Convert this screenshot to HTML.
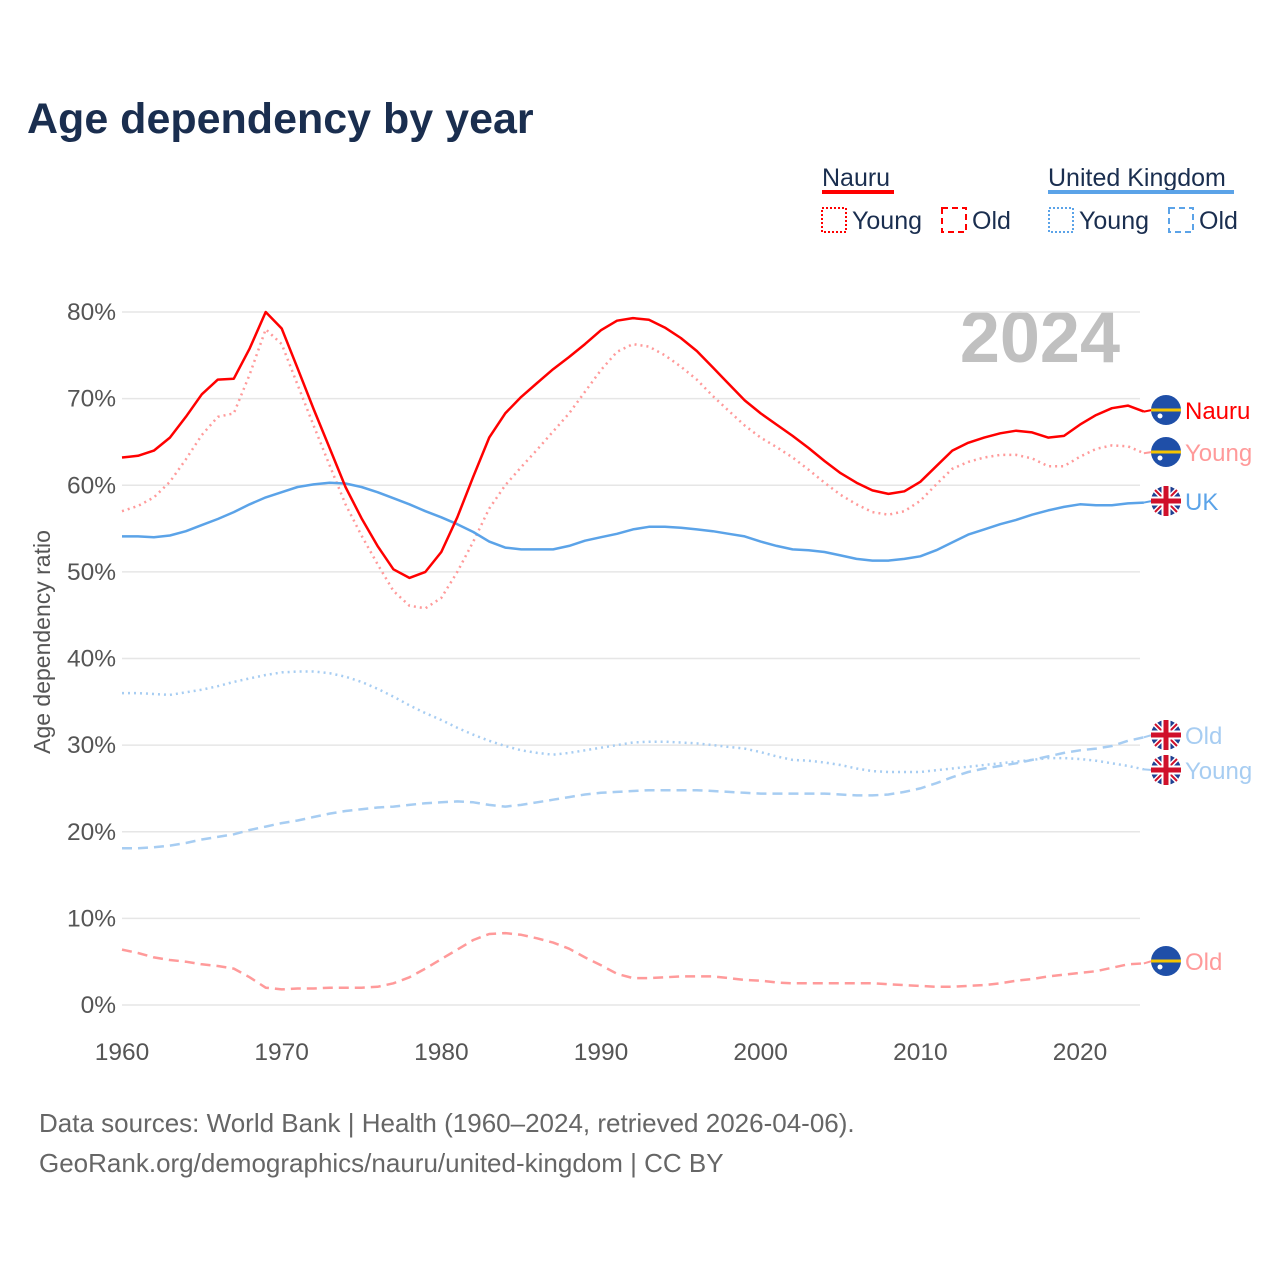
<!DOCTYPE html>
<html><head><meta charset="utf-8"><style>
body{margin:0;background:#fff;}
svg{display:block;font-family:"Liberation Sans",sans-serif;}
</style></head><body>
<svg id="chart" width="1280" height="1280" viewBox="0 0 1280 1280">
<rect width="1280" height="1280" fill="#fff"/>
<text x="27" y="133" font-size="43" font-weight="bold" fill="#1a2e4f">Age dependency by year</text>
<g font-size="25" fill="#1a2e4f">
<text x="822" y="186">Nauru</text>
<rect x="822" y="190" width="72" height="4" fill="#ff0000"/>
<rect x="822" y="208" width="24" height="24" fill="none" stroke="#ff0000" stroke-width="2" stroke-dasharray="2 2"/>
<text x="852" y="229">Young</text>
<rect x="942" y="208" width="24" height="24" fill="none" stroke="#ff0000" stroke-width="2" stroke-dasharray="6 4"/>
<text x="972" y="229">Old</text>
<text x="1048" y="186">United Kingdom</text>
<rect x="1048" y="190" width="186" height="4" fill="#5ba3e8"/>
<rect x="1049" y="208" width="24" height="24" fill="none" stroke="#5ba3e8" stroke-width="2" stroke-dasharray="2 2"/>
<text x="1079" y="229">Young</text>
<rect x="1169" y="208" width="24" height="24" fill="none" stroke="#5ba3e8" stroke-width="2" stroke-dasharray="6 4"/>
<text x="1199" y="229">Old</text>
</g>
<text x="1120" y="362" font-size="72" font-weight="bold" fill="#c0c0c0" text-anchor="end">2024</text>
<text transform="translate(50,642) rotate(-90)" font-size="23" fill="#555" text-anchor="middle">Age dependency ratio</text>
<g id="grid"></g><g id="series"></g><g id="labels"></g>
<text x="39" y="1132" font-size="26" fill="#666">Data sources: World Bank | Health (1960–2024, retrieved 2026-04-06).</text>
<text x="39" y="1172" font-size="26" fill="#666">GeoRank.org/demographics/nauru/united-kingdom | CC BY</text>
</svg>
<script>
const years=[];for(let y=1960;y<=2024;y++)years.push(y);
const yTicks=[0,10,20,30,40,50,60,70,80];
const xTicks=[1960,1970,1980,1990,2000,2010,2020];
const nauruTotal=[63.2,63.4,64.0,65.5,67.9,70.5,72.2,72.3,75.8,80.0,78.1,73.5,68.8,64.3,59.8,56.2,53.0,50.3,49.3,50.0,52.3,56.3,61.0,65.5,68.3,70.2,71.8,73.4,74.8,76.3,77.9,79.0,79.3,79.1,78.2,77.0,75.5,73.6,71.7,69.8,68.3,67.0,65.7,64.3,62.8,61.4,60.3,59.4,59.0,59.3,60.4,62.2,64.0,64.9,65.5,66.0,66.3,66.1,65.5,65.7,67.0,68.1,68.9,69.2,68.5];
const nauruYoung=[57.0,57.6,58.6,60.4,63.0,65.8,67.9,68.3,72.8,78.0,76.3,71.6,66.9,62.3,57.8,54.2,50.9,47.8,46.1,45.8,47.0,50.0,53.5,57.3,60.0,62.1,64.1,66.2,68.3,70.8,73.3,75.4,76.3,76.0,75.0,73.7,72.2,70.3,68.6,66.9,65.5,64.4,63.2,61.8,60.3,58.9,57.8,56.9,56.6,57.0,58.2,60.1,61.9,62.7,63.2,63.5,63.5,63.1,62.2,62.2,63.3,64.2,64.6,64.5,63.7];
const nauruOld=[6.4,6.0,5.5,5.2,5.0,4.7,4.5,4.2,3.2,2.0,1.8,1.9,1.9,2.0,2.0,2.0,2.1,2.5,3.2,4.2,5.3,6.4,7.5,8.2,8.3,8.1,7.7,7.2,6.5,5.5,4.6,3.6,3.1,3.1,3.2,3.3,3.3,3.3,3.1,2.9,2.8,2.6,2.5,2.5,2.5,2.5,2.5,2.5,2.4,2.3,2.2,2.1,2.1,2.2,2.3,2.5,2.8,3.0,3.3,3.5,3.7,3.9,4.3,4.7,4.8];
const ukTotal=[54.1,54.1,54.0,54.2,54.7,55.4,56.1,56.9,57.8,58.6,59.2,59.8,60.1,60.3,60.2,59.8,59.2,58.5,57.8,57.0,56.3,55.5,54.6,53.5,52.8,52.6,52.6,52.6,53.0,53.6,54.0,54.4,54.9,55.2,55.2,55.1,54.9,54.7,54.4,54.1,53.5,53.0,52.6,52.5,52.3,51.9,51.5,51.3,51.3,51.5,51.8,52.5,53.4,54.3,54.9,55.5,56.0,56.6,57.1,57.5,57.8,57.7,57.7,57.9,58.0];
const ukYoung=[36.0,36.0,35.9,35.8,36.1,36.4,36.8,37.3,37.7,38.1,38.4,38.5,38.5,38.3,37.9,37.3,36.5,35.6,34.6,33.7,32.9,32.0,31.2,30.5,29.9,29.4,29.1,28.9,29.1,29.4,29.7,30.0,30.3,30.4,30.4,30.3,30.2,30.0,29.8,29.6,29.2,28.7,28.3,28.2,28.0,27.7,27.3,27.0,26.9,26.9,26.9,27.1,27.3,27.5,27.7,27.9,28.1,28.3,28.5,28.5,28.4,28.2,27.9,27.6,27.2];
const ukOld=[18.1,18.1,18.2,18.4,18.7,19.1,19.4,19.7,20.2,20.6,21.0,21.3,21.7,22.1,22.4,22.6,22.8,22.9,23.1,23.3,23.4,23.5,23.4,23.1,22.9,23.1,23.4,23.7,24.0,24.3,24.5,24.6,24.7,24.8,24.8,24.8,24.8,24.7,24.6,24.5,24.4,24.4,24.4,24.4,24.4,24.3,24.2,24.2,24.3,24.6,25.0,25.6,26.3,26.9,27.3,27.6,27.9,28.3,28.7,29.1,29.4,29.6,29.9,30.5,30.9];

const NS='http://www.w3.org/2000/svg';
const xS=y=>122+(y-1960)*(1080-122)/60;
const yS=v=>1005-v*(1005-312)/80;
function mk(tag,attrs,parent){const e=document.createElementNS(NS,tag);for(const k in attrs)e.setAttribute(k,attrs[k]);parent.appendChild(e);return e;}
const grid=document.getElementById('grid');
yTicks.forEach(t=>{
  const l=mk('line',{x1:122,x2:1140,y1:yS(t),y2:yS(t),stroke:'#e6e6e6','stroke-width':1.5},grid);
  
  
  const tx=mk('text',{x:116,y:yS(t)+8,'font-size':24.5,fill:'#555','text-anchor':'end'},grid);
  tx.textContent=t+'%';
  
  
});
xTicks.forEach(t=>{
  const tx=mk('text',{x:xS(t),y:1060,'font-size':24.5,fill:'#555','text-anchor':'middle'},grid);
  tx.textContent=t;
  
  
});
const ser=document.getElementById('series');
const defs=[
 [ukOld,'#a7cdf2','10 6','uk-old-line'],
 [ukYoung,'#a7cdf2','2 4','uk-young-line'],
 [nauruOld,'#ff9a9a','10 6','nauru-old-line'],
 [nauruYoung,'#ff9a9a','2 4','nauru-young-line'],
 [ukTotal,'#5ba3e8','','uk-total-line'],
 [nauruTotal,'#ff0000','','nauru-total-line']];
defs.forEach(([d,c,da,n])=>{
  const pts=d.map((v,i)=>xS(years[i]).toFixed(1)+','+yS(v).toFixed(1)).join(' ');
  const p=mk('polyline',{points:pts,fill:'none',stroke:c,'stroke-width':2.5,'stroke-linejoin':'round'},ser);
  if(da)p.setAttribute('stroke-dasharray',da);
  
  
});
const lab=document.getElementById('labels');
const ends=[[nauruTotal,'Nauru','#ff0000','nauru',410],[nauruYoung,'Young','#ff9a9a','nauru',452],[ukTotal,'UK','#5ba3e8','uk',501],[ukOld,'Old','#a7cdf2','uk',735],[ukYoung,'Young','#a7cdf2','uk',770],[nauruOld,'Old','#ff9a9a','nauru',961]];
ends.forEach(([d,t,c,f,ly])=>{
  const ey=yS(d[d.length-1]);
  mk('line',{x1:xS(2024),y1:ey,x2:1152,y2:ly,stroke:c,'stroke-width':2},lab);
  const g=mk('g',{},lab);
  
  
  mk('circle',{cx:1166,cy:ly,r:15,fill:f==='uk'?'#1f3f91':'#1f4fa8'},g);
  if(f==='nauru'){
    mk('rect',{x:1151,y:ly-1.5,width:30,height:3,fill:'#f5c400'},g);
    mk('circle',{cx:1160,cy:ly+6,r:2.5,fill:'#fff'},g);
  }else{
    mk('path',{d:`M${1155} ${ly-11}L${1177} ${ly+11}M${1177} ${ly-11}L${1155} ${ly+11}`,stroke:'#fff','stroke-width':5},g);
    mk('path',{d:`M${1155} ${ly-11}L${1177} ${ly+11}M${1177} ${ly-11}L${1155} ${ly+11}`,stroke:'#d0102a','stroke-width':2},g);
    mk('rect',{x:1151,y:ly-4.5,width:30,height:9,fill:'#fff'},g);
    mk('rect',{x:1161.5,y:ly-15,width:9,height:30,fill:'#fff'},g);
    mk('rect',{x:1151,y:ly-2.5,width:30,height:5,fill:'#d0102a'},g);
    mk('rect',{x:1163.5,y:ly-15,width:5,height:30,fill:'#d0102a'},g);
  }
  const tx=mk('text',{x:1185,y:ly+9,'font-size':24,fill:c},lab);
  tx.textContent=t;
  
  
});
</script>
</body></html>
